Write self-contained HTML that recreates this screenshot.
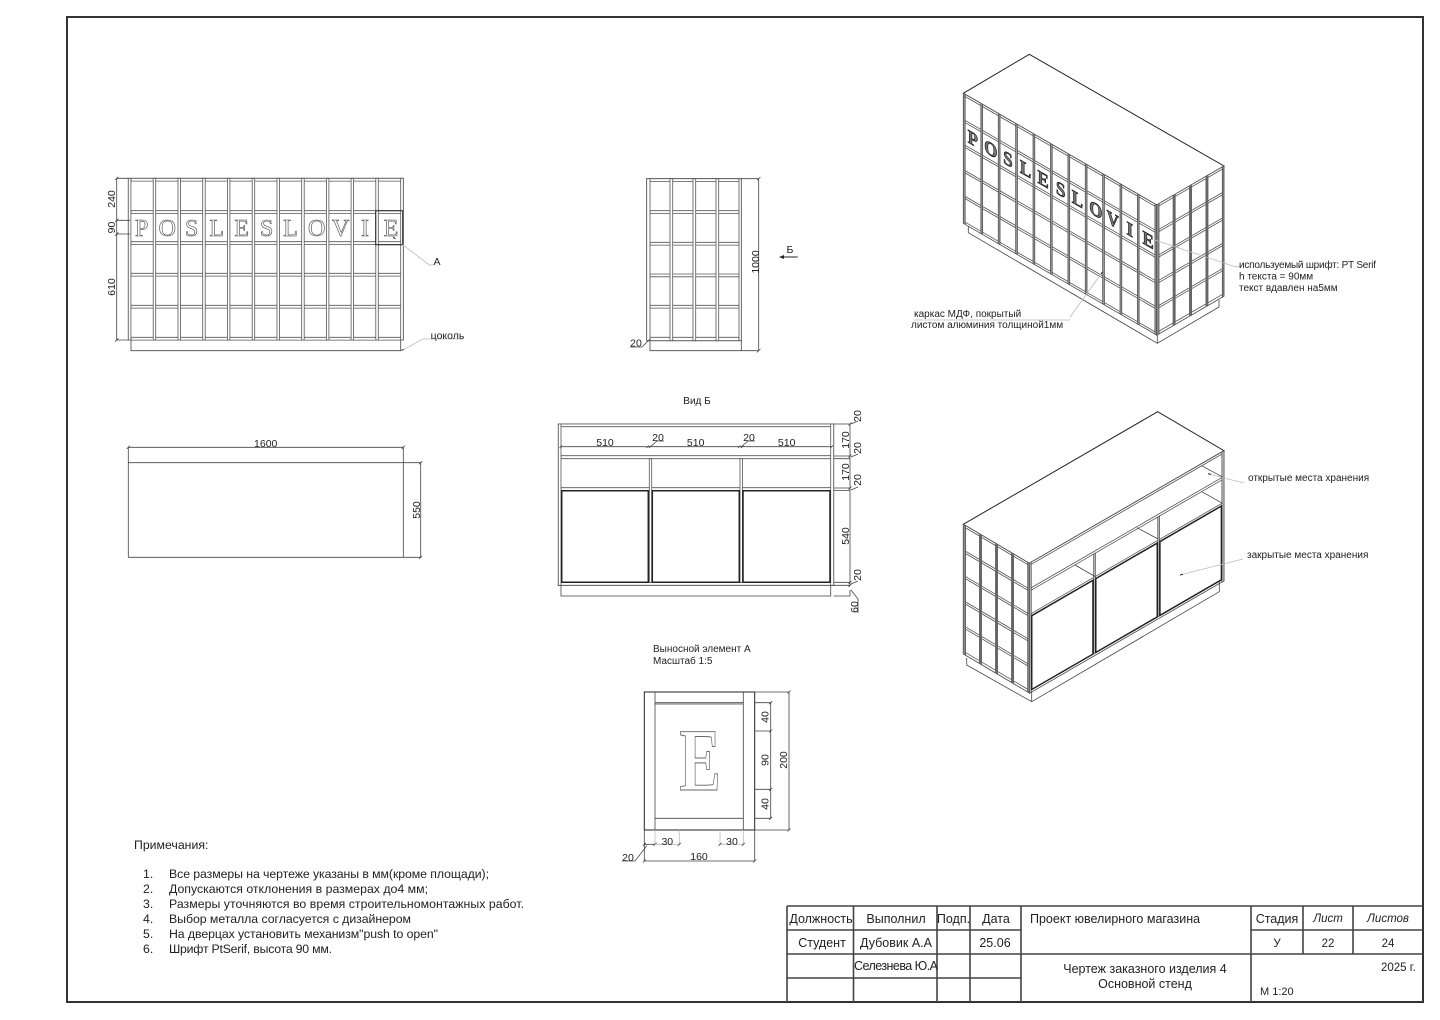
<!DOCTYPE html>
<html lang="ru"><head><meta charset="utf-8"><title>Чертеж</title>
<style>
html,body{margin:0;padding:0;background:#fff}
svg{display:block}
svg *{vector-effect:non-scaling-stroke}
text{font-family:"Liberation Sans","Noto Sans CJK SC",sans-serif;fill:#222;stroke:none}
.d{font-size:10.5px;text-anchor:middle}
.n{font-size:12.3px}
.s{font-size:10px}
.t{font-size:12.5px;text-anchor:middle}
.L{font-family:"Liberation Serif",serif;font-size:24px;text-anchor:middle;fill:#fff;stroke:#444;stroke-width:.6}
.I{font-family:"Liberation Serif",serif;font-size:24px;font-weight:bold;text-anchor:middle;fill:#777;stroke:#111;stroke-width:.7}
.l{fill:none;stroke:#444;stroke-width:.8}
.g{fill:none;stroke:#bbb;stroke-width:.8}
.k{fill:none;stroke:#222;stroke-width:1}
.b{fill:none;stroke:#444;stroke-width:1.6}
</style></head><body>
<svg xmlns="http://www.w3.org/2000/svg" width="1440" height="1020" viewBox="0 0 1440 1020">
<defs>
<g id="fg" stroke="#555" stroke-width=".8">
<rect x="128.3" y="178.3" width="275" height="161.7" fill="#fff"/>
<g fill="#fff"><rect x="131" y="178.3" width="270" height="2.8"/><rect x="131" y="210.7" width="270" height="2.8"/><rect x="131" y="241.7" width="270" height="2.8"/><rect x="131" y="273.3" width="270" height="2.8"/><rect x="131" y="305.3" width="270" height="2.8"/><rect x="131" y="337.3" width="270" height="2.8"/></g>
<rect x="128.3" y="178.3" width="2.6" height="161.7"/><rect x="153.2" y="178.3" width="2.5" height="161.7"/><rect x="178" y="178.3" width="2.5" height="161.7"/><rect x="202.7" y="178.3" width="2.5" height="161.7"/><rect x="227.4" y="178.3" width="2.5" height="161.7"/><rect x="252.2" y="178.3" width="2.5" height="161.7"/><rect x="277" y="178.3" width="2.5" height="161.7"/><rect x="301.7" y="178.3" width="2.5" height="161.7"/><rect x="326.4" y="178.3" width="2.5" height="161.7"/><rect x="351.1" y="178.3" width="2.5" height="161.7"/><rect x="375.8" y="178.3" width="2.5" height="161.7"/><rect x="400.7" y="178.3" width="2.6" height="161.7"/>
</g>
<g id="sg" stroke="#555" stroke-width=".8">
<rect x="646.7" y="178.7" width="94.6" height="162" fill="#fff"/>
<g fill="#fff"><rect x="650" y="178.7" width="89" height="2.8"/><rect x="650" y="210.7" width="89" height="2.8"/><rect x="650" y="242.3" width="89" height="2.8"/><rect x="650" y="274" width="89" height="2.8"/><rect x="650" y="305.3" width="89" height="2.8"/><rect x="650" y="337.3" width="89" height="3.4"/></g>
<rect x="646.7" y="178.7" width="3.3" height="162"/><rect x="670" y="178.7" width="2.7" height="162"/><rect x="693" y="178.7" width="2.7" height="162"/><rect x="716" y="178.7" width="2.7" height="162"/><rect x="739" y="178.7" width="2.3" height="162"/>
</g>
<g id="vb" stroke="#555" stroke-width=".8">
<rect x="558.3" y="424" width="275.4" height="161.3" fill="#fff"/>
<g fill="#fff"><rect x="558.3" y="424" width="275.4" height="2.7"/><rect x="561" y="455.7" width="270" height="3"/><rect x="561" y="487.7" width="270" height="2.7"/><rect x="558.3" y="582.3" width="275.4" height="3"/></g>
<rect x="649.3" y="458.7" width="2.4" height="123.6"/><rect x="740" y="458.7" width="2.4" height="123.6"/>
<rect x="558.3" y="424" width="2.7" height="161.3"/><rect x="830.7" y="424" width="3" height="161.3"/>
<g fill="#fff" stroke="#222" stroke-width="1.5"><rect x="561.7" y="490.7" width="86.6" height="91.6"/><rect x="652.3" y="490.7" width="87" height="91.6"/><rect x="743" y="490.7" width="87" height="91.6"/></g>
</g>
</defs>

<rect width="1440" height="1020" fill="#fff"/>
<rect x="67" y="17" width="1356" height="985" fill="none" stroke="#333" stroke-width="2"/>

<!-- front view -->
<use href="#fg" fill="#fff"/>
<path class="l" d="M131 340V350.7H400.7V340"/>
<text class="L" x="141.7" y="236">P</text><text class="L" x="167.3" y="236">O</text><text class="L" x="191.7" y="236">S</text><text class="L" x="216.7" y="236">L</text><text class="L" x="241.7" y="236">E</text><text class="L" x="266.7" y="236">S</text><text class="L" x="290.5" y="236">L</text><text class="L" x="316.7" y="236">O</text><text class="L" x="340.7" y="236">V</text><text class="L" x="365" y="236">I</text><text class="L" x="391" y="236">E</text>
<rect x="375.7" y="210.7" width="27" height="34" class="k"/>
<path class="l" d="M116.7 178.3V340M115 180l3.4-3.4M115 341.7l3.4-3.4M116.7 178.3H128M116.7 340H128M116.7 220.3V234M116.7 220.3H130M116.7 234H130M115 222l3.4-3.4M115 235.7l3.4-3.4"/>
<path class="g" d="M402.7 244.7L429.3 265H434M402 350.5L423 339H463"/>
<path class="k" d="M393 237l2.4 2M401.5 350.5l2-1.2"/>
<text class="d" transform="translate(115,199) rotate(-90)">240</text>
<text class="d" transform="translate(115,227.5) rotate(-90)">90</text>
<text class="d" transform="translate(115,287) rotate(-90)">610</text>
<text class="d" x="437" y="265">А</text>
<text class="d" x="447.5" y="339">цоколь</text>

<!-- side view -->
<use href="#sg" fill="#fff"/>
<path class="l" d="M650 340.7V350.7H741.3V340.7M741.3 178.7H758.7V350.7H741.3M757 180.4l3.4-3.4M757 352.4l3.4-3.4"/>
<path class="l" d="M630 347H642L650 339"/>
<path class="k" d="M797.7 257H782"/><path d="M779 257l5-2v4z" fill="#222"/>
<text class="d" transform="translate(759,262) rotate(-90)">1000</text>
<text class="d" x="790" y="253">Б</text>
<text class="d" x="636" y="346.5">20</text>

<!-- top view -->
<path class="l" d="M128.3 447.3V557.3H403.3V447.3M128.3 462.7H420.7V557.3H403.3M128.3 447.3H403.3M126.8 448.8l3-3M401.8 448.8l3-3M419.2 464.2l3-3M419.2 558.8l3-3"/>
<text class="d" x="265.7" y="447">1600</text>
<text class="d" transform="translate(420,510) rotate(-90)">550</text>

<!-- Vid B -->
<text class="s" x="697" y="404" text-anchor="middle">Вид Б</text>
<use href="#vb" fill="#fff"/>
<path class="l" d="M561 585.3V596H830.7V585.3"/>
<path class="l" d="M560.7 446.7H831.7M559.5 448l2.5-2.5M646.5 448l2.5-2.5M649 448l2.5-2.5M738 448l2.5-2.5M741 448l2.5-2.5M830.5 448l2.5-2.5"/>
<path class="l" d="M650 447L657 441H664M741 447L748 441H755"/>
<path class="l" d="M833.7 424H850V585.3H833.7M833.7 456H850M833.7 458.7H850M833.7 488H850M833.7 490.4H850M833.7 582.3H850M833.7 596H850V590M848.5 425.5l3-3M848.5 457.5l3-3M848.5 489.5l3-3M848.5 584l3-3M848.5 587l3-3"/>
<path class="l" d="M851 424L858 421M851 457L858 454M851 490L858 487M851 584L858 581M851 590L858 599V613"/>
<text class="d" x="605" y="446">510</text><text class="d" x="695.7" y="446">510</text><text class="d" x="786.7" y="446">510</text>
<text class="d" x="658" y="441">20</text><text class="d" x="749" y="441">20</text>
<text class="d" transform="translate(861,416) rotate(-90)">20</text>
<text class="d" transform="translate(849,440) rotate(-90)">170</text>
<text class="d" transform="translate(861,448) rotate(-90)">20</text>
<text class="d" transform="translate(849,472) rotate(-90)">170</text>
<text class="d" transform="translate(861,480) rotate(-90)">20</text>
<text class="d" transform="translate(849,536) rotate(-90)">540</text>
<text class="d" transform="translate(861,575) rotate(-90)">20</text>
<text class="d" transform="translate(858,607) rotate(-90)">60</text>

<!-- Detail A -->
<text class="s" x="653" y="652">Выносной элемент А</text>
<text class="s" x="653" y="664">Масштаб 1:5</text>
<rect x="644.3" y="692" width="110.4" height="138" fill="#fff" stroke="#222" stroke-width="1"/>
<path class="l" d="M655 692V830M743.3 692V830M655 702.7H743.3M655 704H743.3M655 818.3H743.3"/>
<text transform="translate(700,790) scale(.7,1)" style="font-family:'Liberation Serif',serif;font-weight:bold;font-size:89px;fill:#fff;stroke:#666;stroke-width:.8;text-anchor:middle">E</text>
<path class="l" d="M754.7 702.7H770.7V818.3H754.7M754.7 731H770.7M754.7 789.3H770.7M769.2 704.2l3-3M769.2 732.5l3-3M769.2 790.8l3-3M769.2 819.8l3-3M754.7 692H789V830H754.7M787.5 693.5l3-3M787.5 831.5l3-3"/>
<path class="l" d="M644.3 830V861H754.7V830M642.8 862.5l3-3M753.2 862.5l3-3M621.7 861H635L646.7 845.7M644.3 844.3H655M642.8 845.8l3-3M653.5 845.8l3-3"/>
<path class="g" d="M655 830V844.3M679.3 830V844.3M720 830V844.3M743.3 830V844.3M655 844.3H679.3M720 844.3H743.3"/>
<path class="l" d="M677.8 845.8l3-3M718.5 845.8l3-3M741.8 845.8l3-3"/>
<text class="d" transform="translate(768.5,717) rotate(-90)">40</text>
<text class="d" transform="translate(768.5,760) rotate(-90)">90</text>
<text class="d" transform="translate(768.5,804) rotate(-90)">40</text>
<text class="d" transform="translate(787,760) rotate(-90)">200</text>
<text class="d" x="667.3" y="845">30</text><text class="d" x="732" y="845">30</text>
<text class="d" x="699" y="860">160</text><text class="d" x="628" y="861">20</text>

<!-- Upper iso -->
<path class="k" fill="#fff" d="M963.3 93.3L1029.3 54.3L1224 166L1156.7 205Z"/>
<g transform="matrix(.7033 .4062 0 .804 873.1 -102.2)">
<use href="#fg" fill="#999"/>
<text class="I" x="141.7" y="236">P</text><text class="I" x="167.3" y="236">O</text><text class="I" x="191.7" y="236">S</text><text class="I" x="216.7" y="236">L</text><text class="I" x="241.7" y="236">E</text><text class="I" x="266.7" y="236">S</text><text class="I" x="290.5" y="236">L</text><text class="I" x="316.7" y="236">O</text><text class="I" x="340.7" y="236">V</text><text class="I" x="365" y="236">I</text><text class="I" x="391" y="236">E</text>
</g>
<g transform="matrix(.7114 -.4123 0 .804 696.6 327.9)"><use href="#sg" fill="#8f8f8f"/>
<path fill="none" stroke="#666" stroke-width="2.8" d="M671.3 178.7V340.7M694.3 178.7V340.7M717.3 178.7V340.7"/></g>
<path class="l" d="M968.3 226.3V232.7L1157.3 343.3L1219 307V300M1157.3 335V343.3"/>
<path class="g" d="M1155 240L1235 266.7H1240M1070 317L1101.7 273M914 320H1070"/>
<path class="k" d="M1101 274l1.5-2"/>
<text class="s" x="1239" y="268" textLength="137">используемый шрифт: PT Serif</text>
<text class="s" x="1239" y="279.5">h текста = 90мм</text>
<text class="s" x="1239" y="291">текст вдавлен на5мм</text>
<text class="s" x="914" y="317">каркас МДФ, покрытый</text>
<text class="s" x="911" y="328">листом алюминия толщиной1мм</text>

<!-- Lower iso -->
<path class="k" fill="#fff" d="M963.3 524.3L1157.7 411.7L1224 450.7L1029.3 563.3Z"/>
<g transform="matrix(.707 -.4088 0 .806 634.6 449.8)"><use href="#vb" fill="#c4c4c4"/></g>
<path class="l" d="M1075 565L1095 576.5M1137 527.7L1158 539M1201.7 491.7L1222.5 503.3M1201.7 465.7L1223 477.3"/>
<g transform="matrix(.6977 .4123 0 .8 512.1 114.7)"><use href="#sg" fill="#8f8f8f"/>
<path fill="none" stroke="#666" stroke-width="2.8" d="M671.3 178.7V340.7M694.3 178.7V340.7M717.3 178.7V340.7"/></g>
<path class="l" d="M966.7 658V665L1031.7 701.7L1219.3 591.7V582M1031.7 692V701.7"/>
<path class="g" d="M1208.3 474L1244 483M1180 575L1243 559"/>
<path class="k" d="M1208 473.7l3 .7M1180 575l3-.7"/>
<text class="s" x="1248" y="481">открытые места хранения</text>
<text class="s" x="1247" y="558">закрытые места хранения</text>

<!-- Notes -->
<text class="n" x="134" y="849">Примечания:</text>
<text class="n" x="143" y="878">1.</text><text class="n" x="169" y="878" textLength="320">Все размеры на чертеже указаны в мм(кроме площади);</text>
<text class="n" x="143" y="893">2.</text><text class="n" x="169" y="893" textLength="259">Допускаются отклонения в размерах до4 мм;</text>
<text class="n" x="143" y="908">3.</text><text class="n" x="169" y="908" textLength="355">Размеры уточняются во время строительномонтажных работ.</text>
<text class="n" x="143" y="923">4.</text><text class="n" x="169" y="923" textLength="242">Выбор металла согласуется с дизайнером</text>
<text class="n" x="143" y="938">5.</text><text class="n" x="169" y="938" textLength="269">На дверцах установить механизм"push to open"</text>
<text class="n" x="143" y="953">6.</text><text class="n" x="169" y="953" textLength="163">Шрифт PtSerif, высота 90 мм.</text>

<!-- Title block -->
<path class="b" d="M787 906H1423M787 930H1021M1251 930H1423M787 954H1423M787 978H1021M787 906V1002M853.5 906V1002M937 906V1002M970 906V1002M1021 906V1002M1251 906V1002M1303 906V954M1353 906V954"/>
<text class="t" x="821" y="923">Должность</text><text class="t" x="896" y="923">Выполнил</text><text class="t" x="953.5" y="923">Подп.</text><text class="t" x="996" y="923">Дата</text>
<text x="1030" y="923" style="font-size:12.5px">Проект ювелирного магазина</text>
<text class="t" x="1277" y="923">Стадия</text><text class="t" x="1328" y="922" font-style="italic" style="font-size:11.5px">Лист</text><text class="t" x="1388" y="922" font-style="italic" style="font-size:11.5px">Листов</text>
<text class="t" x="822" y="947">Студент</text><text class="t" x="896" y="947">Дубовик А.А</text><text class="t" x="995" y="947">25.06</text>
<text class="t" x="1277" y="947" style="font-size:11.5px">У</text><text class="t" x="1328" y="947" style="font-size:11.5px">22</text><text class="t" x="1388" y="947" style="font-size:11.5px">24</text>
<text x="854" y="970" style="font-size:12.5px" textLength="84">Селезнева Ю.А</text>
<text class="t" x="1145" y="973">Чертеж заказного изделия 4</text><text class="t" x="1145" y="988">Основной стенд</text>
<text x="1381" y="971" style="font-size:11.5px">2025 г.</text><text x="1260" y="995" style="font-size:11px">М 1:20</text>
</svg>
</body></html>
